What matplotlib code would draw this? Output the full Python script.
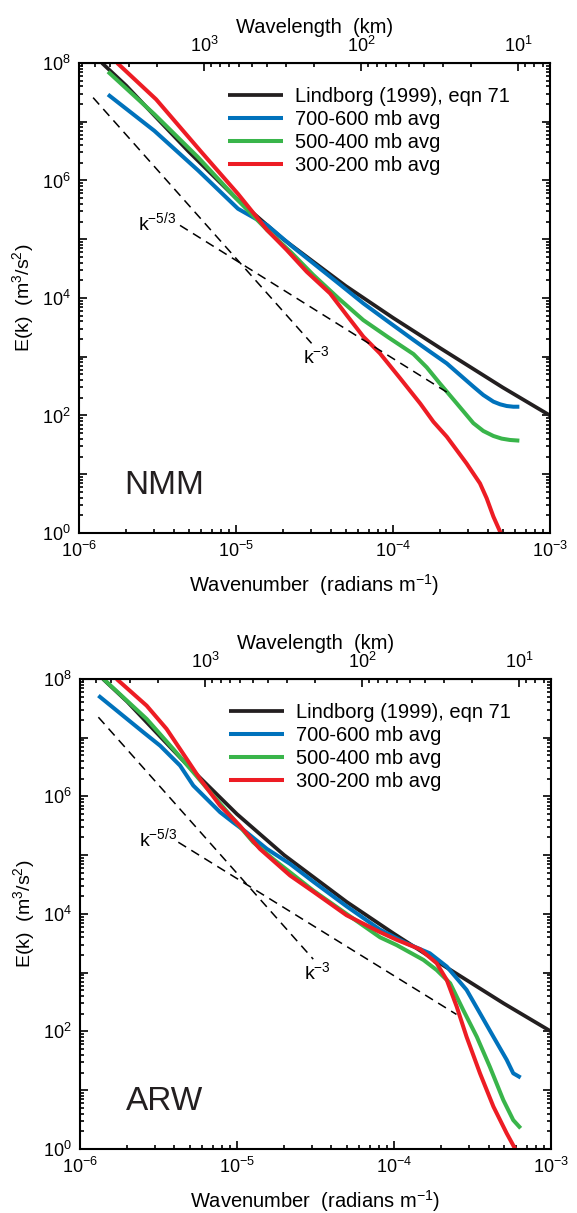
import numpy as np
import matplotlib
matplotlib.use("Agg")
import matplotlib.pyplot as plt
from matplotlib.ticker import LogLocator, FuncFormatter, NullFormatter

plt.rcParams["font.family"] = ["Liberation Sans", "DejaVu Sans"]
plt.rcParams["mathtext.fontset"] = "custom"
plt.rcParams["mathtext.rm"] = "Liberation Sans"
plt.rcParams["mathtext.it"] = "Liberation Sans:italic"
plt.rcParams["mathtext.bf"] = "Liberation Sans:bold"

# ---- data (k in rad/m, E in m^3/s^2) ----
labels = ["Lindborg (1999), eqn 71", "700-600 mb avg", "500-400 mb avg", "300-200 mb avg"]
colors = ["#231f20", "#0072bc", "#39b54a", "#ed1c24"]

lindborg_k = [1.4e-6, 2e-6, 3e-6, 5e-6, 1e-5, 2e-5, 5e-5, 1e-4, 2e-4, 5e-4, 1e-3]
lindborg_e = [1.0e8, 4.1e7, 1.3e7, 3.1e6, 5.0e5, 1.0e5, 1.6e4, 4.6e3, 1.4e3, 3.0e2, 1.0e2]

# NMM panel
nmm_700_k = [1.53e-6, 3.02e-6, 5.74e-6, 1.03e-5, 1.58e-5, 2.30e-5, 3.11e-5, 4.49e-5,
             6.47e-5, 9.33e-5, 1.35e-4, 1.72e-4, 2.20e-4, 2.67e-4, 3.25e-4, 3.76e-4,
             4.36e-4, 4.81e-4, 5.30e-4, 5.84e-4, 6.38e-4]
nmm_700_e = [2.9e7, 7.0e6, 1.48e6, 3.3e5, 1.73e5, 7.4e4, 3.89e4, 1.78e4,
             8.1e3, 3.95e3, 1.93e3, 1.22e3, 7.7e2, 4.9e2, 3.1e2, 2.23e2,
             1.72e2, 1.55e2, 1.45e2, 1.41e2, 1.41e2]
nmm_500_k = [1.53e-6, 3.02e-6, 5.74e-6, 1.03e-5, 1.58e-5, 2.24e-5, 3.11e-5, 4.49e-5,
             6.47e-5, 9.33e-5, 1.35e-4, 1.64e-4, 1.99e-4, 2.55e-4, 3.25e-4, 3.76e-4,
             4.36e-4, 4.92e-4, 5.56e-4, 6.38e-4]
nmm_500_e = [7.1e7, 1.34e7, 2.47e6, 4.6e5, 1.43e5, 6.0e4, 2.46e4, 9.9e3,
             4.2e3, 2.14e3, 1.11e3, 6.6e2, 3.5e2, 1.6e2, 74, 54.5,
             44.8, 40.4, 38.3, 37.3]
nmm_300_k = [1.75e-6, 3.10e-6, 6.05e-6, 1.03e-5, 1.58e-5, 2.10e-5, 2.82e-5, 3.97e-5,
             5.07e-5, 6.47e-5, 8.26e-5, 1.11e-4, 1.49e-4, 1.81e-4, 2.20e-4, 2.94e-4,
             3.58e-4, 3.95e-4, 4.36e-4, 4.92e-4]
nmm_300_e = [1.0e8, 2.4e7, 3.0e6, 5.9e5, 1.43e5, 6.6e4, 2.8e4, 1.2e4,
             5.1e3, 2.2e3, 1.14e3, 4.3e2, 1.6e2, 78, 43.6, 15.3,
             7.0, 3.9, 1.9, 0.92]

# ARW panel
arw_700_k = [1.31e-6, 2.53e-6, 3.24e-6, 4.34e-6, 5.27e-6, 6.41e-6, 7.80e-6, 9.48e-6,
             1.15e-5, 1.55e-5, 2.18e-5, 3.06e-5, 4.99e-5, 8.15e-5, 1.20e-4, 1.69e-4,
             2.17e-4, 2.90e-4, 3.53e-4, 4.30e-4, 5.22e-4, 5.75e-4, 6.41e-4]
arw_700_e = [5.2e7, 1.24e7, 7.3e6, 3.35e6, 1.53e6, 9.1e5, 5.4e5, 3.6e5,
             2.45e5, 1.28e5, 7.1e4, 3.55e4, 1.35e4, 5.4e3, 3.17e3, 2.14e3,
             1.27e3, 5.1e2, 2.04e2, 81, 33, 19.4, 16.4]
arw_500_k = [1.41e-6, 2.66e-6, 3.93e-6, 5.27e-6, 7.06e-6, 9.48e-6, 1.27e-5, 1.70e-5,
             2.18e-5, 3.06e-5, 4.99e-5, 8.15e-5, 1.04e-4, 1.54e-4, 1.87e-4, 2.28e-4,
             2.76e-4, 3.37e-4, 4.08e-4, 4.97e-4, 5.75e-4, 6.41e-4]
arw_500_e = [1.0e8, 2.08e7, 6.4e6, 2.58e6, 1.03e6, 4.14e5, 1.66e5, 8.6e4,
             5.1e4, 2.5e4, 1.0e4, 4.0e3, 2.95e3, 1.65e3, 1.11e3, 6.6e2,
             2.32e2, 81, 25, 6.8, 3.1, 2.25]
arw_300_k = [1.71e-6, 2.66e-6, 3.56e-6, 4.34e-6, 5.81e-6, 7.80e-6, 1.04e-5, 1.40e-5,
             2.18e-5, 3.06e-5, 4.99e-5, 8.15e-5, 1.04e-4, 1.47e-4, 1.87e-4, 2.17e-4,
             2.51e-4, 2.90e-4, 3.53e-4, 4.30e-4, 5.22e-4, 5.98e-4]
arw_300_e = [1.0e8, 3.5e7, 1.41e7, 6.4e6, 1.99e6, 7.0e5, 3.2e5, 1.28e5,
             4.5e4, 2.4e4, 9.5e3, 4.9e3, 3.63e3, 2.5e3, 1.45e3, 7.5e2,
             2.64e2, 81, 19.4, 5.25, 1.85, 0.95]

# reference slopes (two end points each)
nmm_k53_k = [4.4e-6, 2.2e-4]
nmm_k53_e = [1.72e5, 2.5e2]
nmm_k3_k = [1.23e-6, 3.03e-5]
nmm_k3_e = [2.57e7, 1.69e3]
arw_k53_k = [4.23e-6, 2.5e-4]
arw_k53_e = [1.66e5, 1.95e2]
arw_k3_k = [1.31e-6, 3.06e-5]
arw_k3_e = [2.23e7, 1.7e3]

wavelength_ticks = [1e3, 1e2, 1e1]


def k_to_lambda(k):
    k = np.asarray(k, dtype=float)
    with np.errstate(divide="ignore", invalid="ignore"):
        return 2 * np.pi / (1000.0 * k)


def ytick_fmt(v, pos):
    e = int(round(np.log10(v)))
    return r"$10^{%d}$" % e if e % 2 == 0 else ""


def draw_panel(ax, series, k53, k3, name):
    for (k, e), c, lab in zip(series, colors, labels):
        lw = 2.7 if c == colors[0] else 2.9
        ax.plot(k, e, color=c, lw=lw, label=lab, solid_capstyle="butt",
                solid_joinstyle="round")
    for k, e in (k53, k3):
        ax.plot(k, e, color="black", lw=1.1, ls=(0, (6, 4)))

    ax.set_xscale("log")
    ax.set_yscale("log")
    ax.set_xlim(1e-6, 1e-3)
    ax.set_ylim(1e0, 1e8)

    ax.yaxis.set_major_locator(LogLocator(base=10, numticks=20))
    ax.yaxis.set_minor_locator(LogLocator(base=10, subs=np.arange(2, 10), numticks=20))
    ax.yaxis.set_major_formatter(FuncFormatter(ytick_fmt))
    ax.yaxis.set_minor_formatter(NullFormatter())
    ax.xaxis.set_minor_formatter(NullFormatter())

    ax.tick_params(which="both", direction="in", top=False, right=True,
                   labelsize=13, width=1.2)
    ax.tick_params(which="major", length=6)
    ax.tick_params(which="minor", length=3)
    ax.tick_params(axis="x", which="major", pad=6)
    ax.tick_params(axis="y", which="major", pad=6)
    for s in ax.spines.values():
        s.set_linewidth(1.5)

    sec = ax.secondary_xaxis("top", functions=(k_to_lambda, k_to_lambda))
    sec.set_xticks(wavelength_ticks)
    sec.tick_params(which="both", direction="in", labelsize=13, width=1.2)
    sec.tick_params(which="major", length=6, pad=5)
    sec.tick_params(which="minor", length=3)
    sec.xaxis.set_minor_formatter(NullFormatter())
    sec.set_xlabel("Wavelength  (km)", fontsize=14.5, labelpad=2)

    ax.set_xlabel(r"Wavenumber  (radians m$^{\mathregular{-1}}$)", fontsize=14.5, labelpad=8)
    ax.set_ylabel(r"E(k)  (m$^3$/s$^2$)", fontsize=14, labelpad=4)

    ax.text(0.166, 0.662, r"k$^{-5/3}$", transform=ax.transAxes, fontsize=14,
            ha="center", va="center")
    ax.text(0.505, 0.376, r"k$^{-3}$", transform=ax.transAxes, fontsize=14,
            ha="center", va="center")
    ax.text(0.18, 0.10, name, transform=ax.transAxes, fontsize=24,
            ha="center", va="center", color="#231f20")

    ax.legend(loc="upper left", bbox_to_anchor=(0.30, 0.966), frameon=False,
              fontsize=14.5, handlelength=2.7, handletextpad=0.6,
              labelspacing=0.2, borderaxespad=0.0)


fig = plt.figure(figsize=(5.77, 12.13), dpi=100)
ax_top = fig.add_axes([0.1369, 0.5606, 0.8163, 0.3875])
ax_bot = fig.add_axes([0.1386, 0.0528, 0.8163, 0.3875])

draw_panel(ax_top,
           [(lindborg_k, lindborg_e), (nmm_700_k, nmm_700_e),
            (nmm_500_k, nmm_500_e), (nmm_300_k, nmm_300_e)],
           (nmm_k53_k, nmm_k53_e), (nmm_k3_k, nmm_k3_e), "NMM")
draw_panel(ax_bot,
           [(lindborg_k, lindborg_e), (arw_700_k, arw_700_e),
            (arw_500_k, arw_500_e), (arw_300_k, arw_300_e)],
           (arw_k53_k, arw_k53_e), (arw_k3_k, arw_k3_e), "ARW")

fig.savefig("out.png", dpi=100)
